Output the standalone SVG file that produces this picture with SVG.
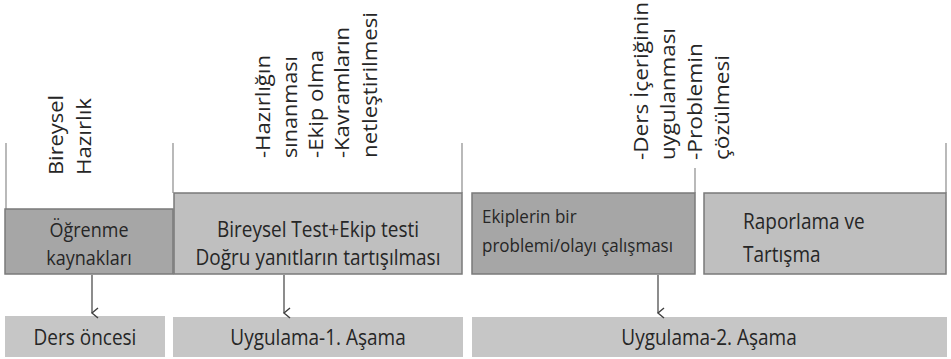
<svg xmlns="http://www.w3.org/2000/svg" width="951" height="359" viewBox="0 0 951 359">
<style>
text{font-family:"Open Sans","Noto Sans","DejaVu Sans",sans-serif;fill:#262626}
.dark{fill:#a6a6a6;stroke:#7a7a7a;stroke-width:1.5}
.light{fill:#bfbfbf;stroke:#7a7a7a;stroke-width:1.5}
.base{fill:#c6c6c6}
.guide{stroke:#8c8c8c;stroke-width:1.2;fill:none}
.arr{stroke:#404040;stroke-width:1.2;fill:none}
.vt{font-size:20px}
.bt{font-size:18px}
.st{font-size:17px}
.ft{font-size:19px}
</style>
<defs>
<marker id="ah" markerWidth="12" markerHeight="12" refX="6" refY="10" orient="auto" markerUnits="userSpaceOnUse" viewBox="0 0 12 12">
<path d="M1,4 L6,10 L11,4" fill="none" stroke="#404040" stroke-width="1.4"/>
</marker>
</defs>
<g id="guides">
<path class="guide" d="M6,143 V209 M173,143 V193 M462,143 V193 M695,168 V193 M946,143 V193"/>
</g>
<g id="label-bireysel">
<text class="vt" transform="translate(63,175) rotate(-90)" textLength="80" lengthAdjust="spacingAndGlyphs">Bireysel</text>
<text class="vt" transform="translate(90.5,175) rotate(-90)" textLength="77" lengthAdjust="spacingAndGlyphs">Hazırlık</text>
</g>
<g id="label-hazirligin">
<text class="vt" transform="translate(270,158) rotate(-90)" textLength="103" lengthAdjust="spacingAndGlyphs">-Hazırlığın</text>
<text class="vt" transform="translate(297,158) rotate(-90)" textLength="102" lengthAdjust="spacingAndGlyphs">sınanması</text>
<text class="vt" transform="translate(323,158) rotate(-90)" textLength="108" lengthAdjust="spacingAndGlyphs">-Ekip olma</text>
<text class="vt" transform="translate(349,158) rotate(-90)" textLength="131" lengthAdjust="spacingAndGlyphs">-Kavramların</text>
<text class="vt" transform="translate(377,158) rotate(-90)" textLength="146" lengthAdjust="spacingAndGlyphs">netleştirilmesi</text>
</g>
<g id="label-ders">
<text class="vt" transform="translate(648,160) rotate(-90)" textLength="158" lengthAdjust="spacingAndGlyphs">-Ders İçeriğinin</text>
<text class="vt" transform="translate(675,160) rotate(-90)" textLength="132" lengthAdjust="spacingAndGlyphs">uygulanması</text>
<text class="vt" transform="translate(702,160) rotate(-90)" textLength="117" lengthAdjust="spacingAndGlyphs">-Problemin</text>
<text class="vt" transform="translate(729,160) rotate(-90)" textLength="105" lengthAdjust="spacingAndGlyphs">çözülmesi</text>
</g>
<g id="n-ogrenme">
<rect class="dark" x="5" y="209" width="168" height="65"/>
<text class="bt" transform="translate(89,237) scale(1,1.1)" text-anchor="middle">Öğrenme</text>
<text class="bt" transform="translate(89,265) scale(1,1.1)" text-anchor="middle">kaynakları</text>
</g>
<g id="n-bireyseltest">
<rect class="light" x="174" y="193" width="288" height="81"/>
<text class="ft" transform="translate(318,237) scale(1,1.1)" text-anchor="middle">Bireysel Test+Ekip testi</text>
<text class="ft" transform="translate(318,265) scale(1,1.1)" text-anchor="middle">Doğru yanıtların tartışılması</text>
</g>
<g id="n-ekiplerin">
<rect class="dark" x="472" y="193" width="223" height="81"/>
<text class="st" transform="translate(482,223) scale(1,1.1)">Ekiplerin bir</text>
<text class="st" transform="translate(482,252) scale(1,1.1)">problemi/olayı çalışması</text>
</g>
<g id="n-raporlama">
<rect class="light" x="704" y="193" width="242" height="81"/>
<text class="ft" transform="translate(743,229) scale(1,1.1)">Raporlama ve</text>
<text class="ft" transform="translate(743,262) scale(1,1.1)">Tartışma</text>
</g>
<g id="n-dersoncesi">
<rect class="base" x="5" y="316" width="160" height="41"/>
<text class="ft" transform="translate(85,345) scale(1,1.12)" text-anchor="middle">Ders öncesi</text>
</g>
<g id="n-uygulama1">
<rect class="base" x="173" y="317" width="290" height="40"/>
<text class="ft" transform="translate(318,345) scale(1,1.12)" text-anchor="middle">Uygulama-1. Aşama</text>
</g>
<g id="n-uygulama2">
<rect class="base" x="472" y="317" width="475" height="40"/>
<text class="ft" transform="translate(709,345) scale(1,1.12)" text-anchor="middle">Uygulama-2. Aşama</text>
</g>
<g id="connectors">
<line class="arr" x1="92" y1="275" x2="92" y2="313" marker-end="url(#ah)"/>
<line class="arr" x1="284" y1="275" x2="284" y2="313" marker-end="url(#ah)"/>
<line class="arr" x1="658" y1="275" x2="658" y2="313" marker-end="url(#ah)"/>
</g>
</svg>
